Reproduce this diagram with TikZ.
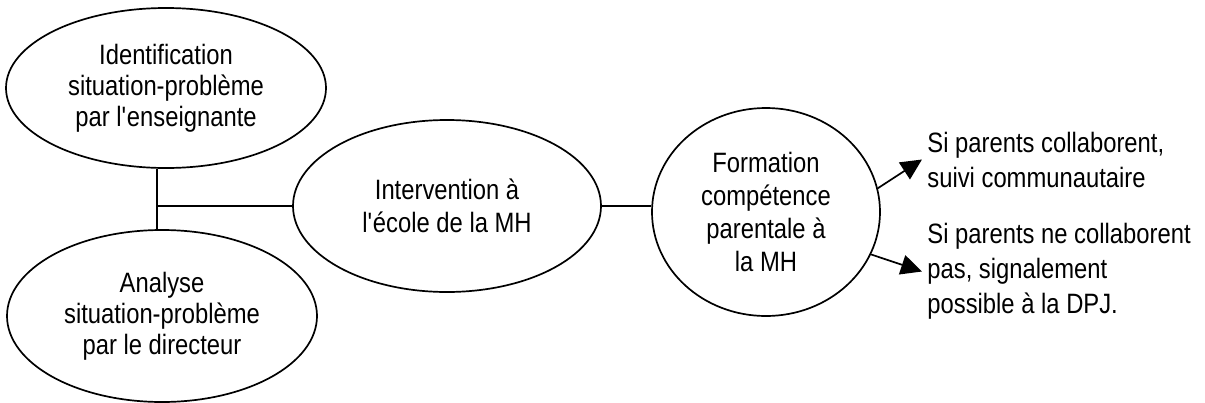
\documentclass[tikz,border=0pt]{standalone}
\usepackage{fontspec}
\setmainfont{Liberation Sans}[FakeStretch=0.85]
\usetikzlibrary{shapes.geometric,arrows.meta}

\begin{document}
\begin{tikzpicture}[x=0.5pt,y=-0.5pt,
  bubble/.style={draw,line width=0.85pt,ellipse,inner sep=0pt,align=center,
    font=\fontsize{14}{16}\selectfont},
  tight/.style={font=\fontsize{14}{15.5}\selectfont},
  loose/.style={font=\fontsize{14}{16.5}\selectfont},
  note/.style={inner sep=2.5pt,align=left,anchor=west,
    font=\fontsize{14}{17.5}\selectfont},
  link/.style={line width=0.85pt},
  arr/.style={line width=0.85pt,-{Triangle[length=10.5pt,width=10pt]}}]
\useasboundingbox (0,0) rectangle (1205,402);

% the two starting steps
\node[bubble,tight,minimum width=160pt,minimum height=80pt] (A) at (166,88)
  {Identification\\situation-problème\\par l\textquotesingle enseignante};
\node[bubble,tight,minimum width=155pt,minimum height=86pt] (B) at (162,316)
  {Analyse\\situation-problème\\par le directeur};

% intervention and training
\node[bubble,loose,minimum width=154pt,minimum height=86pt] (C) at (447,206)
  {Intervention à\\l\textquotesingle école de la MH};
\node[bubble,loose,minimum width=114pt,minimum height=104pt] (D) at (766,212)
  {Formation\\compétence\\parentale à\\la MH};

% outcomes
\node[note] (T1) at (922,159.5) {Si parents collaborent,\\suivi communautaire};
\node[note] (T2) at (922,271.5) {Si parents ne collaborent\\pas, signalement\\possible à la DPJ.};

% junction joining the first two steps to the intervention
\coordinate (J) at (157,206);
\draw[link] (J |- A.south) -- (J |- B.north);
\draw[link] (J) -- (C.west);
\draw[link] (C.east) -- (D.west |- C.east);

\draw[arr] (D.12) -- (T1.west);
\draw[arr] (D.-22) -- (T2.west);
\end{tikzpicture}
\end{document}
